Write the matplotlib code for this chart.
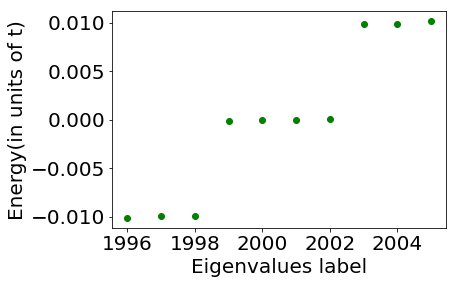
import matplotlib
matplotlib.use("Agg")
import matplotlib.pyplot as plt

labels = [1996, 1997, 1998, 1999, 2000, 2001, 2002, 2003, 2004, 2005]
energies = [-0.0102, -0.0099, -0.0099, -0.0001, 0.0, 0.0, 0.0001, 0.0099, 0.0099, 0.0102]

plt.rcParams["font.size"] = 20

fig = plt.figure(figsize=(457 / 72, 284 / 72), dpi=72)
fig.subplots_adjust(left=0.245, right=0.977, top=0.962, bottom=0.196)
ax = fig.add_subplot(111)
ax.plot(labels, energies, "go")
ax.set_xlabel("Eigenvalues label")
ax.set_ylabel("Energy(in units of t)")
ax.set_xticks([1996, 1998, 2000, 2002, 2004])
ax.set_yticks([-0.010, -0.005, 0.0, 0.005, 0.010])

fig.savefig("out.png", dpi=72)
